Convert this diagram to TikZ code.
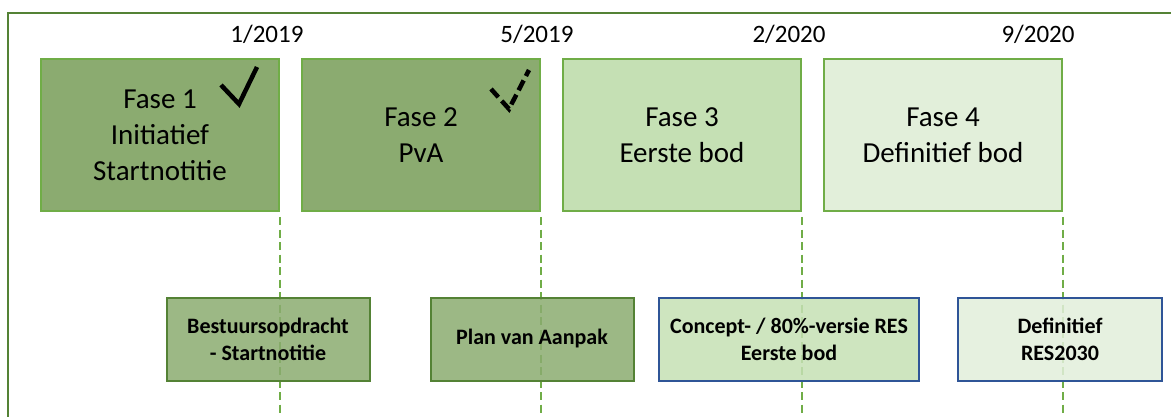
\documentclass[tikz,border=0pt]{standalone}
\usepackage{fontspec}
\setmainfont{Carlito}
\usepackage{tikz}

\definecolor{fasedonker}{RGB}{139,171,112}
\definecolor{fasemidden}{RGB}{197,224,180}
\definecolor{faselicht}{RGB}{226,239,218}
\definecolor{bladgroen}{RGB}{112,173,71}
\definecolor{bosgroen}{RGB}{84,130,53}
\definecolor{staalblauw}{RGB}{47,85,151}

\tikzset{
  fasebox/.style={draw=bladgroen, line width=2pt, minimum width=238pt, minimum height=152pt, align=center, inner sep=0pt, font=\fontsize{29}{36}\selectfont},
  stukbox/.style={line width=2pt, minimum height=83pt, align=center, inner sep=0pt, font=\fontsize{22}{27}\selectfont\bfseries, fill opacity=0.85, text opacity=1},
  datum/.style={font=\fontsize{25}{30}\selectfont},
  tijdlijn/.style={bladgroen, line width=2.5pt, dash pattern=on 8pt off 4.5pt}
}

\begin{document}
\begin{tikzpicture}[x=1pt,y=-1pt]
        \useasboundingbox (0,0) rectangle (1171,417);
        \clip (0,0) rectangle (1171,417);
        \draw [bosgroen, line width=2pt] (8,13) rectangle (1190,440);
        \node [datum] (datum1) at (267,34) {1/2019};
        \node [datum] (datum2) at (537,34) {5/2019};
        \node [datum] (datum3) at (789,34) {2/2020};
        \node [datum] (datum4) at (1038,34) {9/2020};
        \node [fasebox, fill=fasedonker] (fase1) at (160,135) {Fase 1\\Initiatief\\Startnotitie};
        \node [fasebox, fill=fasedonker] (fase2) at (421,135) {Fase 2\\PvA};
        \node [fasebox, fill=fasemidden] (fase3) at (682,135) {Fase 3\\Eerste bod};
        \node [fasebox, fill=faselicht] (fase4) at (943,135) {Fase 4\\Definitief bod};
        \draw [line width=4.5pt] (221,85) -- (239,104) -- (257,67);
        \draw [line width=4.5pt, dash pattern=on 11pt off 5pt] (491,89) -- (509,109) -- (529,70);
        \coordinate (onder) at (0,417);
        \draw [tijdlijn] ([yshift=-5pt]fase1.south east) -- (fase1.south east |- onder);
        \draw [tijdlijn] ([yshift=-5pt]fase2.south east) -- (fase2.south east |- onder);
        \draw [tijdlijn] ([yshift=-5pt]fase3.south east) -- (fase3.south east |- onder);
        \draw [tijdlijn] ([yshift=-5pt]fase4.south east) -- (fase4.south east |- onder);
        \node [stukbox, draw=bosgroen, fill=fasedonker, minimum width=203pt] (stuk1) at (268,339) {Bestuursopdracht\\- Startnotitie};
        \node [stukbox, draw=bosgroen, fill=fasedonker, minimum width=203pt] (stuk2) at (532,339) {Plan van Aanpak};
        \node [stukbox, draw=staalblauw, fill=fasemidden, minimum width=260pt] (stuk3) at (789,339) {Concept- / 80\%-versie RES\\Eerste bod};
        \node [stukbox, draw=staalblauw, fill=faselicht, minimum width=204pt] (stuk4) at (1060,339) {Definitief\\RES2030};
    \end{tikzpicture}
\end{document}
